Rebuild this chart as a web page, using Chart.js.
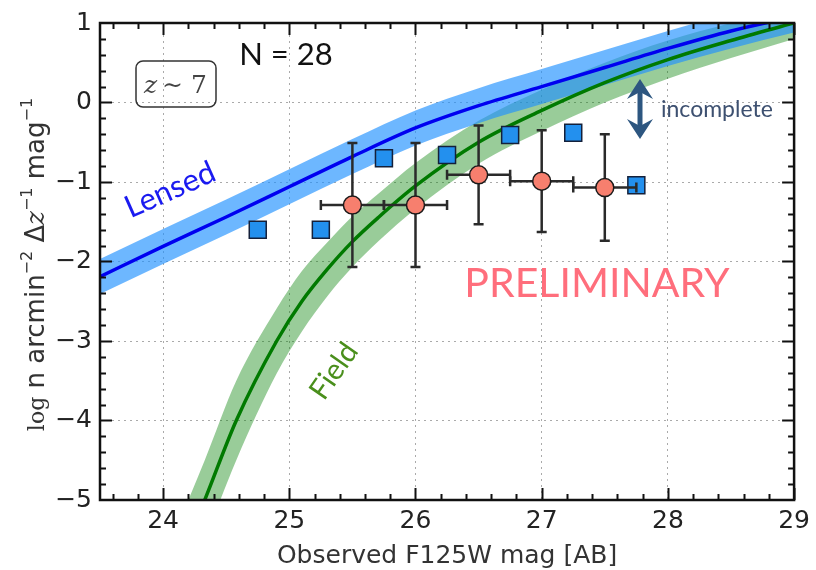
<!DOCTYPE html>
<html>
<head>
<meta charset="utf-8">
<script src="https://cdn.jsdelivr.net/npm/chart.js@4.4.1/dist/chart.umd.min.js"></script>
<style>
  html, body { margin: 0; padding: 0; background: #fff; }
  canvas { display: block; }
</style>
</head>
<body>
<canvas id="lfChart" width="816" height="570"></canvas>
<script>
// axis ticks
const xTicks = [24, 25, 26, 27, 28, 29];
const yTicks = [-5, -4, -3, -2, -1, 0, 1];

// lensed model curve + band
const lensedMag = [23.5, 24.0, 24.5, 25.0, 25.5, 26.0, 26.5, 27.0, 27.5, 28.0, 28.5, 29.0];
const lensedLogN = [-2.19, -1.81, -1.44, -1.06, -0.68, -0.32, -0.04, 0.2, 0.44, 0.68, 0.9, 1.08];
const lensedHi = [-1.97, -1.59, -1.22, -0.84, -0.46, -0.1, 0.18, 0.42, 0.66, 0.9, 1.12, 1.3];
const lensedLo = [-2.41, -2.03, -1.66, -1.28, -0.9, -0.54, -0.26, -0.02, 0.22, 0.46, 0.68, 0.88];

// field model curve + band
const fieldMag = [24.2, 24.33, 24.58, 24.9, 25.1, 25.3, 25.5, 25.71, 26.0, 26.5, 27.0, 27.5, 28.0, 28.5, 29.0];
const fieldLogN = [-5.5, -5.0, -4.0, -3.0, -2.5, -2.1, -1.75, -1.44, -1.05, -0.5, -0.1, 0.25, 0.54, 0.78, 1.0];
const fieldHi = [-5.0, -4.5, -3.5, -2.59, -2.12, -1.76, -1.43, -1.14, -0.76, -0.23, 0.16, 0.5, 0.78, 1.0, 1.2];
const fieldLo = [-6.0, -5.5, -4.5, -3.41, -2.88, -2.44, -2.07, -1.74, -1.34, -0.77, -0.36, 0.0, 0.3, 0.56, 0.8];

// observed counts (squares)
const squareMag = [24.75, 25.25, 25.75, 26.25, 26.75, 27.25, 27.75];
const squareLogN = [-1.6, -1.6, -0.7, -0.66, -0.41, -0.38, -1.04];

// binned points with errors (circles)
const circleMag = [25.5, 26.0, 26.5, 27.0, 27.5];
const circleLogN = [-1.29, -1.29, -0.91, -0.99, -1.07];
const circleMagErr = [0.25, 0.25, 0.25, 0.25, 0.25];
const circleLogNErr = [0.78, 0.78, 0.62, 0.64, 0.67];

const pts = (xs, ys) => xs.map((x, i) => ({ x: x, y: ys[i] }));
const minus = v => String(v).replace('-', '\u2212');

const errorBars = {
    id: 'errorBars',
    beforeDatasetDraw(chart, args) {
        if (args.index !== 0) return;
        const { ctx, scales: { x, y } } = chart;
        ctx.save();
        ctx.strokeStyle = '#2a2a2a';
        ctx.lineWidth = 2.5;
        circleMag.forEach((m, i) => {
            const px = x.getPixelForValue(m);
            const py = y.getPixelForValue(circleLogN[i]);
            const x0 = x.getPixelForValue(m - circleMagErr[i]);
            const x1 = x.getPixelForValue(m + circleMagErr[i]);
            const y0 = y.getPixelForValue(circleLogN[i] + circleLogNErr[i]);
            const y1 = y.getPixelForValue(circleLogN[i] - circleLogNErr[i]);
            ctx.beginPath();
            ctx.moveTo(x0, py); ctx.lineTo(x1, py);
            ctx.moveTo(x0, py - 5); ctx.lineTo(x0, py + 5);
            ctx.moveTo(x1, py - 5); ctx.lineTo(x1, py + 5);
            ctx.moveTo(px, y0); ctx.lineTo(px, y1);
            ctx.moveTo(px - 5, y0); ctx.lineTo(px + 5, y0);
            ctx.moveTo(px - 5, y1); ctx.lineTo(px + 5, y1);
            ctx.stroke();
        });
        ctx.restore();
    }
};

const frameAndText = {
    id: 'frameAndText',
    afterDraw(chart) {
        const { ctx, chartArea: a, scales: { x, y } } = chart;
        ctx.save();
        // inward ticks, all four sides
        ctx.strokeStyle = '#111';
        ctx.lineWidth = 2;
        ctx.beginPath();
        for (let v = 23.6; v < 29; v += 0.2) {
            const px = Math.round(x.getPixelForValue(v)) + 0.5;
            const major = Math.abs(v - Math.round(v)) < 0.01;
            const len = major ? 12 : 6;
            ctx.moveTo(px, a.bottom); ctx.lineTo(px, a.bottom - len);
            ctx.moveTo(px, a.top); ctx.lineTo(px, a.top + len);
        }
        for (let v = -4.8; v < 1; v += 0.2) {
            const py = Math.round(y.getPixelForValue(v)) + 0.5;
            const major = Math.abs(v - Math.round(v)) < 0.01;
            const len = major ? 12 : 6;
            ctx.moveTo(a.left, py); ctx.lineTo(a.left + len, py);
            ctx.moveTo(a.right, py); ctx.lineTo(a.right - len, py);
        }
        ctx.stroke();
        ctx.lineWidth = 2.5;
        ctx.strokeRect(a.left, a.top, a.right - a.left, a.bottom - a.top);

        // x title
        ctx.fillStyle = '#333';
        ctx.font = '25px "DejaVu Sans"';
        ctx.textAlign = 'center';
        ctx.textBaseline = 'alphabetic';
        ctx.fillText('Observed F125W mag [AB]', (a.left + a.right) / 2, 563);

        // y title, mixed fonts, rotated
        const parts = [
            ['log', '22px "DejaVu Serif"', 0],
            [' n arcmin', '26px "DejaVu Sans"', 0],
            ['\u22122', '16px "DejaVu Sans"', 1],
            [' \u0394', '26px "DejaVu Sans"', 0],
            ['z', 'italic 26px "DejaVu Serif"', 0],
            ['\u22121', '16px "DejaVu Sans"', 1],
            [' mag', '26px "DejaVu Sans"', 0],
            ['\u22121', '16px "DejaVu Sans"', 1]
        ];
        let total = 0;
        parts.forEach(p => { ctx.font = p[1]; total += ctx.measureText(p[0]).width; });
        ctx.translate(44, (a.top + a.bottom) / 2 + 3);
        ctx.rotate(-Math.PI / 2);
        ctx.textAlign = 'left';
        let cx = -total / 2;
        parts.forEach(p => {
            ctx.font = p[1];
            ctx.fillText(p[0], cx, p[2] ? -12 : 0);
            cx += ctx.measureText(p[0]).width;
        });
        ctx.setTransform(1, 0, 0, 1, 0, 0);

        // N = 28
        ctx.fillStyle = '#111';
        ctx.font = '31px Lato';
        ctx.textAlign = 'center';
        ctx.fillText('N = 28', 286, 65);

        // z ~ 7 box
        ctx.strokeStyle = '#333';
        ctx.lineWidth = 1.5;
        ctx.beginPath();
        ctx.roundRect(136, 61, 80, 46, 7);
        ctx.stroke();
        ctx.fillStyle = '#444';
        ctx.font = 'italic 25px "DejaVu Serif"';
        ctx.textAlign = 'left';
        ctx.fillText('z', 144, 93);
        ctx.font = '25px "DejaVu Serif"';
        ctx.fillText('\u223C 7', 162, 93);

        // curve labels
        ctx.textAlign = 'center';
        ctx.textBaseline = 'middle';
        ctx.save();
        ctx.translate(170, 190);
        ctx.rotate(-24 * Math.PI / 180);
        ctx.fillStyle = '#1a1af0';
        ctx.font = '31px Lato';
        ctx.fillText('Lensed', 0, 0);
        ctx.restore();

        ctx.save();
        ctx.translate(334, 371);
        ctx.rotate(-55 * Math.PI / 180);
        ctx.fillStyle = '#4a8f1c';
        ctx.font = '29px Lato';
        ctx.fillText('Field', 0, 0);
        ctx.restore();
        ctx.textBaseline = 'alphabetic';

        // PRELIMINARY
        ctx.fillStyle = '#ff6e7c';
        ctx.font = '41px Lato';
        ctx.fillText('PRELIMINARY', 597, 297);

        // incomplete arrow
        ctx.strokeStyle = '#2d5680';
        ctx.fillStyle = '#2d5680';
        ctx.lineWidth = 5;
        ctx.beginPath();
        ctx.moveTo(640, 90); ctx.lineTo(640, 128);
        ctx.stroke();
        ctx.beginPath();
        ctx.moveTo(640, 79); ctx.lineTo(653, 99); ctx.lineTo(640, 92); ctx.lineTo(627, 99); ctx.closePath();
        ctx.moveTo(640, 139); ctx.lineTo(653, 119); ctx.lineTo(640, 126); ctx.lineTo(627, 119); ctx.closePath();
        ctx.fill();
        ctx.fillStyle = '#3d5070';
        ctx.font = '23px Lato';
        ctx.textAlign = 'left';
        ctx.fillText('incomplete', 661, 117);

        ctx.restore();
    }
};

const ctx = document.getElementById('lfChart').getContext('2d');
new Chart(ctx, {
    type: 'scatter',
    data: {
        datasets: [
            {
                data: pts(circleMag, circleLogN),
                backgroundColor: '#f77f6e',
                borderColor: '#1a1a1a',
                borderWidth: 1.5,
                pointRadius: 9,
                order: 0
            },
            {
                data: pts(squareMag, squareLogN),
                pointStyle: 'rect',
                backgroundColor: '#2390ee',
                borderColor: '#14203a',
                borderWidth: 1.5,
                pointRadius: 12,
                order: 0
            },
            {
                data: pts(lensedMag, lensedLogN),
                showLine: true,
                borderColor: '#0000f0',
                borderWidth: 3.5,
                pointRadius: 0,
                cubicInterpolationMode: 'monotone',
                order: 1
            },
            {
                data: pts(fieldMag, fieldLogN),
                showLine: true,
                borderColor: '#007a00',
                borderWidth: 3.5,
                pointRadius: 0,
                cubicInterpolationMode: 'monotone',
                order: 1
            },
            {
                data: pts(lensedMag, lensedHi),
                showLine: true,
                borderWidth: 0,
                borderColor: 'rgba(0,0,0,0)',
                backgroundColor: 'rgba(30,144,255,0.65)',
                pointRadius: 0,
                cubicInterpolationMode: 'monotone',
                fill: '+1',
                order: 2
            },
            {
                data: pts(lensedMag, lensedLo),
                showLine: true,
                borderWidth: 0,
                borderColor: 'rgba(0,0,0,0)',
                pointRadius: 0,
                cubicInterpolationMode: 'monotone',
                order: 2
            },
            {
                data: pts(fieldMag, fieldHi),
                showLine: true,
                borderWidth: 0,
                borderColor: 'rgba(0,0,0,0)',
                backgroundColor: 'rgba(0,128,0,0.4)',
                pointRadius: 0,
                cubicInterpolationMode: 'monotone',
                fill: '+1',
                order: 3
            },
            {
                data: pts(fieldMag, fieldLo),
                showLine: true,
                borderWidth: 0,
                borderColor: 'rgba(0,0,0,0)',
                pointRadius: 0,
                cubicInterpolationMode: 'monotone',
                order: 3
            }
        ]
    },
    options: {
        responsive: false,
        animation: false,
        events: [],
        layout: { padding: { left: 0, right: 19, top: 20, bottom: 0 } },
        plugins: {
            legend: { display: false },
            tooltip: { enabled: false }
        },
        scales: {
            x: {
                type: 'linear',
                min: 23.5,
                max: 29,
                afterBuildTicks: s => { s.ticks = xTicks.map(v => ({ value: v })); },
                afterFit: s => { s.height = 70; },
                border: { display: false, dash: [2, 4] },
                grid: { color: '#aaa', lineWidth: 1, drawTicks: false },
                ticks: {
                    color: '#222',
                    padding: 6,
                    maxRotation: 0,
                    font: { family: 'DejaVu Sans', size: 25 },
                    callback: v => minus(v)
                }
            },
            y: {
                type: 'linear',
                min: -5,
                max: 1,
                afterBuildTicks: s => { s.ticks = yTicks.map(v => ({ value: v })); },
                afterFit: s => { s.width = 100; },
                border: { display: false, dash: [2, 4] },
                grid: { color: '#aaa', lineWidth: 1, drawTicks: false },
                ticks: {
                    color: '#222',
                    padding: 8,
                    font: { family: 'DejaVu Sans', size: 25 },
                    callback: v => minus(v)
                }
            }
        }
    },
    plugins: [errorBars, frameAndText]
});
</script>
</body>
</html>
